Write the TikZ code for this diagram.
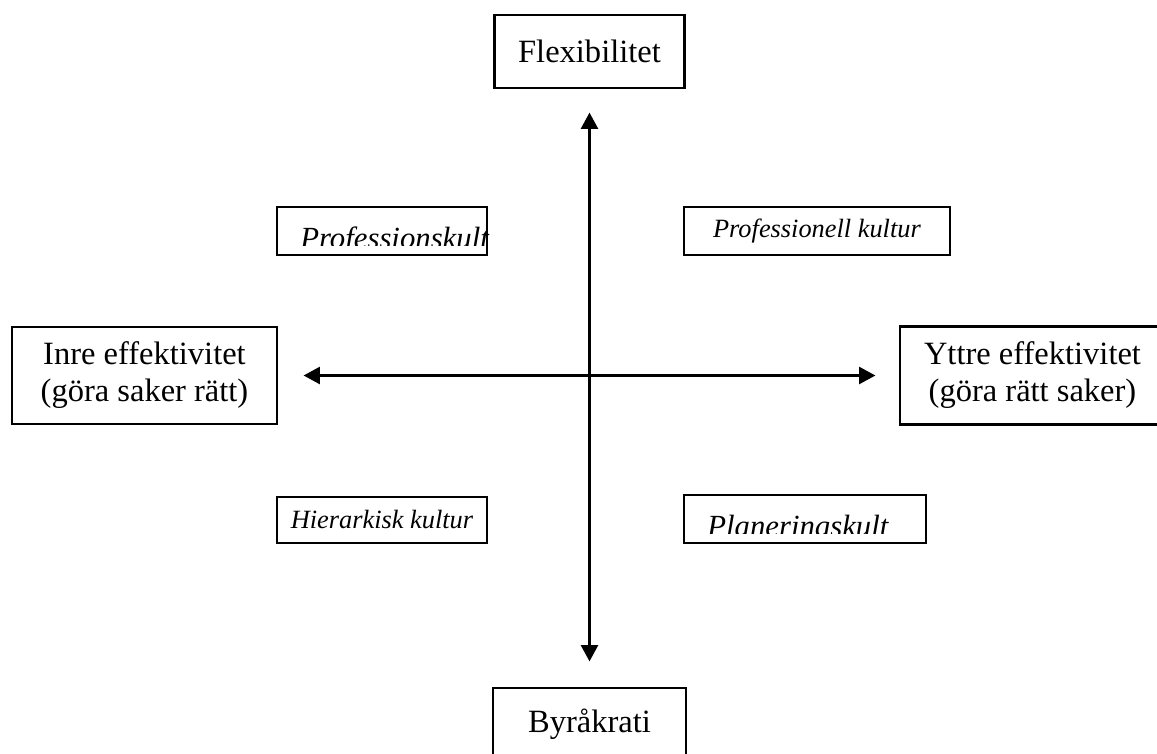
\documentclass[tikz,border=0pt]{standalone}
\usepackage{fontspec}
\setmainfont{Liberation Serif}
\usetikzlibrary{arrows.meta}
\pgfdeclarelayer{nodelayer}
\pgfdeclarelayer{edgelayer}
\pgfsetlayers{edgelayer,nodelayer,main}
\tikzstyle{axis box}=[fill=white, draw=black, shape=rectangle, line width=1.6pt, align=center, font=\fontsize{18.5}{21}\selectfont]
\tikzstyle{quad box}=[fill=white, draw=black, shape=rectangle, line width=1.1pt, inner sep=0pt]
\tikzstyle{cut text}=[inner sep=0pt, anchor=base west, font=\fontsize{17.5}{20}\selectfont\itshape]
\tikzstyle{axis edge}=[draw=black, line width=2.2pt, {Triangle[length=0.33cm, width=0.33cm]}-{Triangle[length=0.33cm, width=0.33cm]}]

\begin{document}
\begin{tikzpicture}
	\clip (-11.79, -7.55) rectangle (11.35, 7.51);
	\begin{pgfonlayer}{nodelayer}
		\node [style=axis box, minimum width=3.8cm, minimum height=1.46cm] (0) at (0, 6.48) {Flexibilitet};
		\node [style=axis box, minimum width=3.86cm, minimum height=1.46cm] (1) at (0, -6.98) {Byråkrati};
		\node [style=axis box, minimum width=5.3cm, minimum height=1.94cm] (2) at (-8.9, 0) {Inre effektivitet\\(göra saker rätt)};
		\node [style=axis box, minimum width=5.3cm, minimum height=1.96cm] (3) at (8.86, 0) {Yttre effektivitet\\(göra rätt saker)};
		\node [style=quad box, minimum width=4.2cm, minimum height=0.96cm] (4) at (-4.15, 2.89) {};
		\node [style=quad box, minimum width=5.32cm, minimum height=0.96cm] (5) at (4.55, 2.89) {\textit{\fontsize{15}{17}\selectfont Professionell kultur}};
		\node [style=quad box, minimum width=4.2cm, minimum height=0.92cm] (6) at (-4.15, -2.89) {\textit{\fontsize{15}{17}\selectfont Hierarkisk kultur}};
		\node [style=quad box, minimum width=4.84cm, minimum height=0.96cm] (7) at (4.31, -2.87) {};
	\end{pgfonlayer}
	\begin{pgfonlayer}{edgelayer}
		\draw [style=axis edge, shorten <=0.5cm, shorten >=0.46cm] (2) to (3);
		\draw [style=axis edge, shorten <=0.46cm, shorten >=0.5cm] (0) to (1);
	\end{pgfonlayer}
	% text cut off at the lower edge
	\begin{scope}
		\clip (-6.2, 3.3) rectangle (-1.6, 2.61);
		\node [style=cut text] (8) at (-5.79, 2.55) {Professionskult};
	\end{scope}
	\begin{scope}
		\clip (2.0, -2.4) rectangle (6.6, -3.15);
		\node [style=cut text] (9) at (2.35, -3.21) {Planeringskult};
	\end{scope}
\end{tikzpicture}
\end{document}
